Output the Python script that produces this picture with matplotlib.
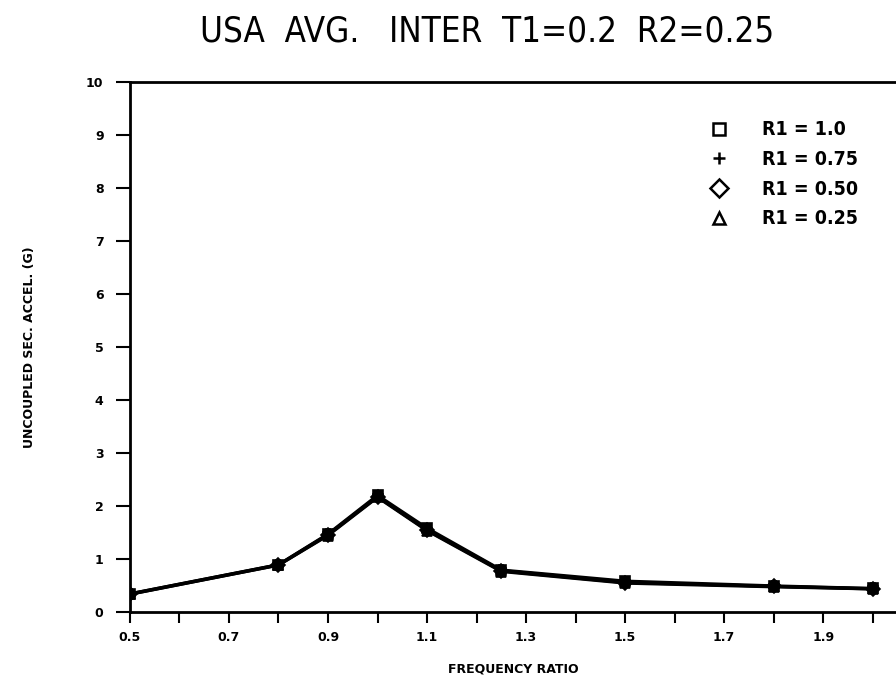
import matplotlib
matplotlib.use("Agg")
import matplotlib.pyplot as plt
from matplotlib.lines import Line2D

# frequency ratio points
freq = [0.5, 0.8, 0.9, 1.0, 1.1, 1.25, 1.5, 1.8, 2.0]
r1_100 = [0.34, 0.89, 1.47, 2.20, 1.58, 0.79, 0.58, 0.49, 0.44]
r1_075 = [0.34, 0.89, 1.46, 2.18, 1.55, 0.78, 0.56, 0.48, 0.44]
r1_050 = [0.33, 0.88, 1.45, 2.17, 1.54, 0.77, 0.55, 0.48, 0.43]
r1_025 = [0.33, 0.88, 1.44, 2.16, 1.53, 0.76, 0.54, 0.47, 0.43]
labels = ["R1 = 1.0", "R1 = 0.75", "R1 = 0.50", "R1 = 0.25"]
markers = ["s", "P", "D", "^"]

xticks = [0.5, 0.7, 0.9, 1.1, 1.3, 1.5, 1.7, 1.9]
xtick_labels = ["0.5", "0.7", "0.9", "1.1", "1.3", "1.5", "1.7", "1.9"]
yticks = list(range(11))

fig = plt.figure(figsize=(8.96, 6.79), dpi=100)
ax = fig.add_axes([0.145, 0.099, 0.855, 0.780])

for ys, m in zip([r1_100, r1_075, r1_050, r1_025], markers):
    ax.plot(freq, ys, color="black", lw=2.2, marker=m, ms=7,
            mfc="black", mec="black", mew=1.2)

ax.set_xlim(0.5, 2.047)
ax.set_ylim(0, 10)
ax.set_xticks(xticks)
ax.set_xticklabels(xtick_labels)
ax.set_xticks([x / 10 for x in range(6, 21, 2)], minor=True)
ax.set_yticks(yticks)

ax.spines["right"].set_visible(False)
for s in ["left", "bottom", "top"]:
    ax.spines[s].set_linewidth(2)

ax.tick_params(axis="x", which="both", direction="out", length=8, width=1.5, pad=6)
ax.tick_params(axis="y", direction="out", length=10, width=1.5, pad=9)
for lab in ax.get_xticklabels() + ax.get_yticklabels():
    lab.set_fontweight("bold")
    lab.set_fontsize(9)

ax.set_xlabel("FREQUENCY RATIO", fontsize=9, fontweight="bold", labelpad=13)
ax.set_ylabel("UNCOUPLED SEC. ACCEL. (G)", fontsize=9, fontweight="bold", labelpad=36)

fig.text(0.544, 0.954, "USA  AVG.   INTER  T1=0.2  R2=0.25", ha="center", va="center",
         fontsize=25, fontstretch="condensed", fontweight="light",
         family=["DejaVu Sans"])

handles = [Line2D([], [], ls="none", marker=m, color="black", mfc="none",
                  mew=1.8, ms=9) for m in ["s", "+", "D", "^"]]
ax.legend(handles, labels, loc="upper right", bbox_to_anchor=(0.973, 0.961),
          frameon=False, handletextpad=1.2, labelspacing=0.55,
          prop={"family": ["DejaVu Sans"], "stretch": "condensed",
                "weight": "bold", "size": 14})

fig.savefig("out.png", dpi=100)
